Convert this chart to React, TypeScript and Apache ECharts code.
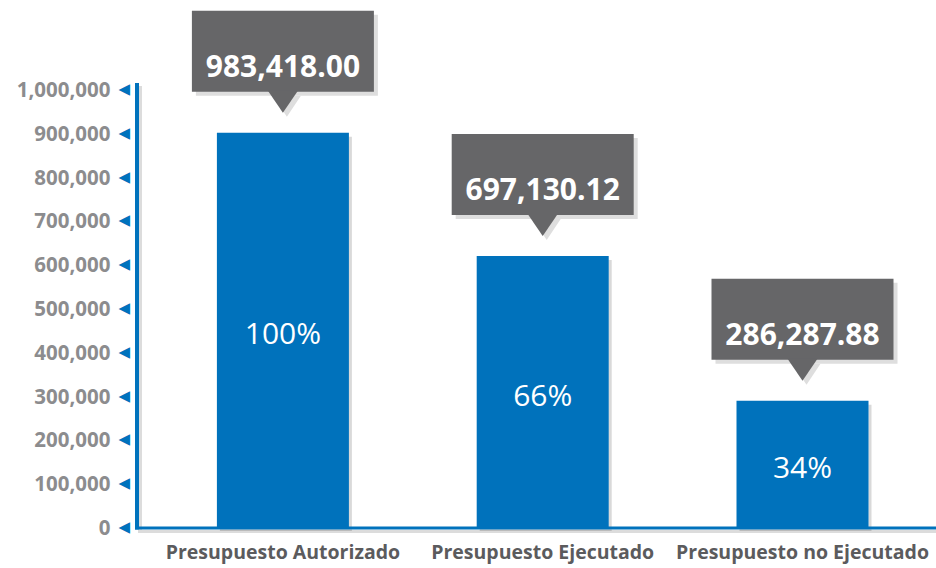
import React, { useEffect, useRef } from "react";
import * as echarts from "echarts";

const categories = ["Presupuesto Autorizado", "Presupuesto Ejecutado", "Presupuesto no Ejecutado"];
// bar heights as drawn against the axis
const barValues = [900000, 619000, 288000];
// callout amounts as printed
const amountLabels = ["983,418.00", "697,130.12", "286,287.88"];
const percentLabels = ["100%", "66%", "34%"];
const yTicks = [0, 100000, 200000, 300000, 400000, 500000, 600000, 700000, 800000, 900000, 1000000];

const BLUE = "#0072BC";
const FONT = "'Open Sans', 'Noto Sans', sans-serif";

export default function App() {
  const ref = useRef<HTMLDivElement>(null);
  useEffect(() => {
    if (!ref.current) return;
    const chart = echarts.init(ref.current, null, { renderer: "svg" });
    const fmt = (v: number) => v.toLocaleString("en-US");
    const option: any = {
      animation: false,
      backgroundColor: "#ffffff",
      grid: { left: 153, right: 3.6, top: 89, bottom: 41 },
      xAxis: {
        type: "category",
        data: categories,
        axisLine: { show: false },
        axisTick: { show: false },
        axisLabel: {
          interval: 0,
          margin: 14,
          fontFamily: FONT,
          fontSize: 19.5,
          fontWeight: "bold",
          color: "#5b5b5d",
          textShadowColor: "#d4d4d4",
          textShadowOffsetX: 2,
          textShadowOffsetY: 3,
          textShadowBlur: 0,
        },
      },
      yAxis: {
        type: "value",
        min: yTicks[0],
        max: yTicks[yTicks.length - 1],
        interval: 100000,
        splitLine: { show: false },
        axisLine: { show: false },
        axisTick: { show: false },
        axisLabel: {
          margin: 23,
          formatter: (v: number) => `{v|${fmt(v)}}{g|}{t|◀}`,
          rich: {
            v: {
              fontFamily: FONT,
              fontSize: 20.5,
              fontWeight: "bold",
              color: "#8c8c8e",
              textShadowColor: "#d4d4d4",
              textShadowOffsetX: 2,
              textShadowOffsetY: 3,
              textShadowBlur: 0,
            },
            g: { width: 8 },
            t: { fontFamily: "DejaVu Sans", fontSize: 15, color: BLUE },
          },
        },
      },
      graphic: [
        { type: "line", shape: { x1: 140.5, y1: 86, x2: 140.5, y2: 533 }, style: { stroke: "#dcdcdc", lineWidth: 3 }, z: 1 },
        { type: "line", shape: { x1: 138, y1: 531.5, x2: 936, y2: 531.5 }, style: { stroke: "#dcdcdc", lineWidth: 3 }, z: 1 },
        { type: "line", shape: { x1: 137, y1: 83, x2: 137, y2: 529.5 }, style: { stroke: BLUE, lineWidth: 4 }, z: 10 },
        { type: "line", shape: { x1: 135, y1: 528, x2: 936, y2: 528 }, style: { stroke: BLUE, lineWidth: 3 }, z: 10 },
      ],
      series: [
        {
          type: "bar",
          data: barValues.map((v, i) => ({ value: v, label: { formatter: percentLabels[i] } })),
          barWidth: 132,
          itemStyle: {
            color: BLUE,
            shadowColor: "rgba(0,0,0,0.15)",
            shadowOffsetX: 3,
            shadowOffsetY: 4,
            shadowBlur: 0,
          },
          label: {
            show: true,
            position: "inside",
            offset: [0, 3],
            fontFamily: FONT,
            fontSize: 30,
            color: "#ffffff",
          },
          z: 3,
        },
        {
          type: "custom",
          data: barValues.map((v, i) => [i, v, i]),
          renderItem: (params: any, api: any) => {
            const p = api.coord([api.value(0), api.value(1)]);
            const idx = api.value(2);
            const cx = p[0];
            const top = p[1];
            const bw = 182;
            const bh = 81;
            const boxBottom = top - 41;
            const boxTop = boxBottom - bh;
            const tipY = top - 20;
            const so = 4;
            return {
              type: "group",
              children: [
                { type: "rect", shape: { x: cx - bw / 2 + so, y: boxTop + so, width: bw, height: bh }, style: { fill: "#dedede" } },
                { type: "polygon", shape: { points: [[cx - 14 + so, boxBottom + so], [cx + 14 + so, boxBottom + so], [cx + so, tipY + so]] }, style: { fill: "#dedede" } },
                { type: "rect", shape: { x: cx - bw / 2, y: boxTop, width: bw, height: bh }, style: { fill: "#666668" } },
                { type: "polygon", shape: { points: [[cx - 15, boxBottom - 1], [cx + 15, boxBottom - 1], [cx, tipY]] }, style: { fill: "#666668" } },
                {
                  type: "text",
                  x: cx,
                  y: top - 67,
                  style: {
                    text: amountLabels[idx],
                    fill: "#ffffff",
                    fontFamily: FONT,
                    fontSize: 30,
                    fontWeight: "bold",
                    align: "center",
                    verticalAlign: "middle",
                  },
                },
              ],
            };
          },
          z: 5,
        },
      ],
    };
    chart.setOption(option);
    return () => chart.dispose();
  }, []);
  return <div ref={ref} style={{ width: 936, height: 568, position: "absolute", left: 0, top: 0 }} />;
}
